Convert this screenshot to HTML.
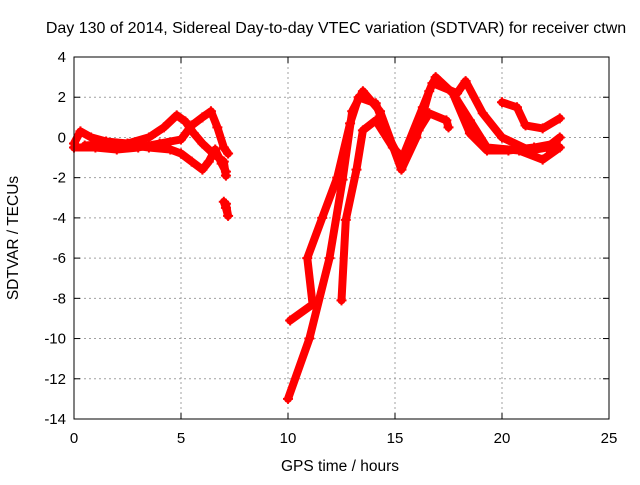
<!DOCTYPE html>
<html><head><meta charset="utf-8"><style>
body{margin:0;background:#fff}
svg text{font-family:"Liberation Sans",sans-serif;font-size:15px;fill:#000}
</style></head><body>
<svg width="640" height="480" xmlns="http://www.w3.org/2000/svg">
<rect width="640" height="480" fill="#fff"/>
<text x="336" y="33" text-anchor="middle" style="font-size:16px">Day 130 of 2014, Sidereal Day-to-day VTEC variation (SDTVAR) for receiver ctwn</text>
<g id="grid"></g>
<g id="axes"></g>
<g id="series"></g>
<rect x="74" y="57" width="535" height="362" fill="none" stroke="#000" stroke-width="1"/>
<text x="340" y="471" text-anchor="middle" style="font-size:15.5px">GPS time / hours</text>
<text transform="translate(18,238) rotate(-90)" text-anchor="middle" style="font-size:15.5px">SDTVAR / TECUs</text>
</svg>
<script>
const xTicks=[0,5,10,15,20,25];
const yTicks=[4,2,0,-2,-4,-6,-8,-10,-12,-14];
const trace1Hours=[0,0.3,0.8,1.5,2.5,3.5,4.2,4.8,5.2,5.6,6.0,6.5,7.0,7.1];
const trace1Values=[-0.3,0.3,0,-0.2,-0.3,0,0.5,1.1,0.8,0.2,-0.3,-0.8,-1.2,-1.9];
const trace2Hours=[0,1,2,3,4,5,5.5,6.0,6.4,6.7,7.0,7.2];
const trace2Values=[-0.5,-0.5,-0.6,-0.5,-0.3,-0.1,0.6,1.0,1.3,0.5,-0.5,-0.8];
const trace3Hours=[0.5,2,3.5,4.5,5.0,5.5,6.0,6.3,6.6,6.9,7.1];
const trace3Values=[-0.4,-0.3,-0.5,-0.6,-0.8,-1.2,-1.6,-1.2,-0.6,-1.3,-1.7];
const trace4Hours=[7.0,7.1,7.2,7.1];
const trace4Values=[-3.2,-3.5,-3.9,-3.3];
const trace5Hours=[10.0,11.0,11.94,12.55,13.0,13.5,14.3,15.3,16.0,16.6,16.9,17.7,18.5,19.3,20.8,21.9,22.7];
const trace5Values=[-13.0,-10,-6,-2.1,1.3,2.3,1.3,-1.6,0,2.3,3.0,2.2,0.85,-0.5,-0.65,-1.1,-0.5];
const trace6Hours=[10.1,11.15,10.9,11.6,12.3,12.9,13.3,14.1,14.7,15.35,16.1,16.6,17.4,17.5];
const trace6Values=[-9.1,-8.3,-6,-4,-2,0.7,2,1.7,0,-1.3,0.35,1.2,0.85,0.5];
const trace7Hours=[12.5,12.7,13.2,13.5,14.1,14.9,15.35,16.3,16.75,17.9,18.3,19.1,20.0,21.3,22.1,22.7];
const trace7Values=[-8.1,-4.1,-1.6,0.35,0.85,-0.5,-1,1.5,2.7,2.2,2.8,1.2,0,-0.65,-0.5,0];
const trace8Hours=[20.0,20.7,21.1,21.9,22.7];
const trace8Values=[1.75,1.5,0.6,0.45,0.95];
const trace9Hours=[17.7,18.5,19.3,20.3,21.5,22.5];
const trace9Values=[2.2,0.2,-0.65,-0.65,-0.5,-0.3];
const traces=[[trace1Hours,trace1Values],[trace2Hours,trace2Values],[trace3Hours,trace3Values],[trace4Hours,trace4Values],[trace5Hours,trace5Values],[trace6Hours,trace6Values],[trace7Hours,trace7Values],[trace8Hours,trace8Values],[trace9Hours,trace9Values]];
const NS="http://www.w3.org/2000/svg";
const X0=74,X1=609,Y0=57,Y1=419;
function xs(h){return X0+(h-0)/(25-0)*(X1-X0);}
function ys(v){return Y1-(v-(-14))/(4-(-14))*(Y1-Y0);}
function mk(tag,attrs,parent){const e=document.createElementNS(NS,tag);for(const k in attrs)e.setAttribute(k,attrs[k]);parent.appendChild(e);return e;}
const grid=document.getElementById('grid'),axes=document.getElementById('axes'),series=document.getElementById('series');
xTicks.forEach(t=>{
  const x=xs(t);
  if(t>0&&t<25){const g=mk('line',{x1:x,x2:x,y1:Y0,y2:Y1,stroke:'#a0a0a0','stroke-dasharray':'2,3'},grid);
  
  }
  mk('line',{x1:x,x2:x,y1:Y1,y2:Y1-6,stroke:'#000'},axes);
  mk('line',{x1:x,x2:x,y1:Y0,y2:Y0+6,stroke:'#000'},axes);
  const tx=mk('text',{x:x,y:Y1+24,'text-anchor':'middle'},axes);tx.textContent=t;
  
  
});
yTicks.forEach(t=>{
  const y=ys(t);
  if(t<4&&t>-14){const g=mk('line',{x1:X0,x2:X1,y1:y,y2:y,stroke:'#a0a0a0','stroke-dasharray':'2,3'},grid);
  
  }
  mk('line',{x1:X0,x2:X0+6,y1:y,y2:y,stroke:'#000'},axes);
  mk('line',{x1:X1,x2:X1-6,y1:y,y2:y,stroke:'#000'},axes);
  const tx=mk('text',{x:X0-8,y:y+5,'text-anchor':'end'},axes);tx.textContent=t;
  
  
});
traces.forEach((tr,i)=>{
  const pts=tr[0].map((h,j)=>xs(h).toFixed(1)+','+ys(tr[1][j]).toFixed(1)).join(' ');
  const pl=mk('polyline',{points:pts,fill:'none',stroke:'#ff0000','stroke-width':8,'stroke-linejoin':'round','stroke-linecap':'round'},series);
  
  
  tr[0].forEach((h,j)=>{
    const x=xs(h),y=ys(tr[1][j]);
    const p=mk('path',{d:`M${x-5},${y}h10M${x},${y-5}v10`,stroke:'#ff0000','stroke-width':2},series);
    
    
  });
});
</script>
</body></html>
